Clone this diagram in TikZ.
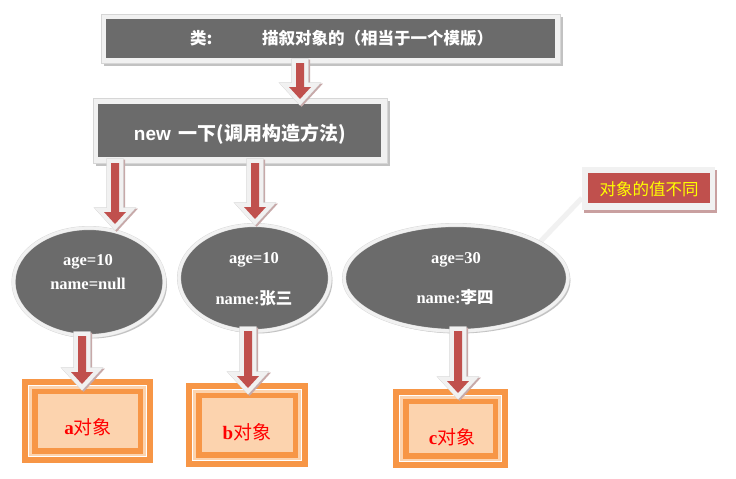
\documentclass[tikz,border=0pt]{standalone}
\usepackage{fontspec}
\setmainfont{Liberation Serif}
\newfontfamily\cjk{Noto Sans CJK SC}
\newfontfamily\arialf{Liberation Sans}
\usetikzlibrary{shapes.geometric,shadows,calc}
\definecolor{dgrey}{HTML}{6B6B6B}
\definecolor{lightc}{HTML}{F1F1F1}
\definecolor{edgec}{HTML}{D6D6D6}
\definecolor{shadowc}{HTML}{C2C2C2}
\definecolor{redc}{HTML}{C0504D}
\definecolor{arrsc}{HTML}{C7A9A9}
\definecolor{orangec}{HTML}{F79646}
\definecolor{peachc}{HTML}{FCD3AE}
\definecolor{callsc}{HTML}{C9A0A0}
\definecolor{txtred}{HTML}{FF0000}
\definecolor{txtyel}{HTML}{FFFF00}
\pgfdeclarelayer{bg}
\pgfsetlayers{bg,main}
\tikzset{
  lightbox/.style={rectangle, fill=lightc, draw=edgec, line width=0.4pt,
    general shadow={fill=shadowc, shadow xshift=3pt, shadow yshift=-3pt}},
  ell/.style={ellipse, fill=dgrey, draw=edgec, double=lightc, double distance=3.2pt, line width=0.4pt,
    general shadow={fill=shadowc, shadow xshift=2.5pt, shadow yshift=-2.5pt}},
  callbox/.style={rectangle, fill=lightc,
    general shadow={fill=callsc, shadow xshift=2pt, shadow yshift=-2.5pt}},
  objbox/.style={rectangle, fill=orangec},
  toptext/.style={text=white, font=\cjk\bfseries\fontsize{16.5}{19}\selectfont},
  newtext/.style={text=white, font=\cjk\bfseries\fontsize{19}{22}\selectfont},
  etext/.style={text=white, font=\bfseries\fontsize{16.5}{19}\selectfont},
  calltext/.style={text=txtyel, font=\cjk\fontsize{16.5}{19}\selectfont},
  objtext/.style={text=txtred, font=\bfseries\fontsize{19}{22}\selectfont},
  conn/.style={draw=lightc, line width=5pt},
  arrsh/.style={fill=arrsc, draw=arrsc, line width=9pt, line join=miter},
  arrlt/.style={fill=lightc, draw=edgec, double=lightc, double distance=8.4pt, line width=0.35pt, line join=miter},
  arrrd/.style={fill=redc, draw=none},
}
% #1 = x (px), #2 = source node, #3 = target node, #4 = tip offset below target's north
\newcommand\barrow[4]{%
  \foreach \st/\sx/\sy in {arrsh/1.6/1.2, arrlt/0/0, arrrd/0/0}{%
    \draw[\st] let \p1=(#2.south), \p2=(#3.north) in
      ({#1pt-4pt+\sx pt},{\y1-\sy pt}) --
      ({#1pt-4pt+\sx pt},{\y2-(#4pt)+12pt-\sy pt}) --
      ({#1pt-11pt+\sx pt},{\y2-(#4pt)+12pt-\sy pt}) --
      ({#1pt+\sx pt},{\y2-(#4pt)-\sy pt}) --
      ({#1pt+11pt+\sx pt},{\y2-(#4pt)+12pt-\sy pt}) --
      ({#1pt+4pt+\sx pt},{\y2-(#4pt)+12pt-\sy pt}) --
      ({#1pt+4pt+\sx pt},{\y1-\sy pt}) -- cycle;
  }}
\newcommand\objinner[1]{%
  \draw[white, line width=0.9pt] ($(#1.north west)+(6.5,6.5)$) rectangle ($(#1.south east)+(-6.5,-6.5)$);
  \fill[peachc] ($(#1.north west)+(7,7)$) rectangle ($(#1.south east)+(-7,-7)$);
  \fill[orangec] ($(#1.north west)+(10,9.5)$) rectangle ($(#1.south east)+(-10,-9.5)$);
  \fill[peachc] ($(#1.north west)+(16,15)$) rectangle ($(#1.south east)+(-15,-15)$);
}
\begin{document}
\begin{tikzpicture}[x=1pt,y=-1pt, every node/.style={outer sep=0pt, inner sep=0pt}]
\useasboundingbox (0,0) rectangle (736,479);
\begin{pgfonlayer}{bg}
\fill[white] (0,0) rectangle (736,479);
\end{pgfonlayer}

% class box
\node[lightbox, minimum width=459pt, minimum height=49pt] (top) at (330.5,38.5) {};
\fill[dgrey] ($(top.north west)+(5,5)$) rectangle ($(top.south east)+(-5,-5)$);
\node[toptext, anchor=west] (t1) at (190,38.5) {类:};
\node[toptext, anchor=west] (t2) at (262,38.5) {描叙对象的（相当于一个模版）};

% new box
\node[lightbox, minimum width=294pt, minimum height=65pt] (new) at (240,130.5) {};
\fill[dgrey] ($(new.north west)+(5,6)$) rectangle ($(new.south east)+(-6,-6)$);
\node[newtext] (t3) at (240,134) {{\arialf new}\hspace{8pt}一下(调用构造方法)};

% ellipses
\node[ell, minimum width=151pt, minimum height=108pt] (e1) at (89,282) {};
\node[ell, minimum width=151pt, minimum height=106pt] (e2) at (254.5,278) {};
\node[ell, minimum width=224pt, minimum height=106pt] (e3) at (456,278) {};
\node[etext] (e1a) at (88,262) {age=10};
\node[etext] (e1b) at (88,284) {name=null};
\node[etext] (e2a) at (254,260) {age=10};
\node[etext] (e2b) at (254,298) {name:{\cjk 张三}};
\node[etext] (e3a) at (456,260) {age=30};
\node[etext] (e3b) at (455,297) {name:{\cjk 李四}};

% callout
\node[callbox, minimum width=133pt, minimum height=43pt] (call) at (648.5,188.5) {};
\fill[redc] ($(call.north west)+(6,6)$) rectangle ($(call.south east)+(-5,-7)$);
\node[calltext] (ct) at (649,189.5) {对象的值不同};
\coordinate (cend) at ($(call.south west)+(0,-12)$);
\begin{pgfonlayer}{bg}
\draw[conn] (e3.23) -- (cend);
\end{pgfonlayer}

% object boxes
\node[objbox, minimum width=131pt, minimum height=84pt] (a) at (87.5,421) {};
\objinner{a}
\node[objtext] (at) at (88,427) {a{\cjk\mdseries 对象}};
\node[objbox, minimum width=122pt, minimum height=84pt] (b) at (247,425) {};
\objinner{b}
\node[objtext] (bt) at (247,432) {b{\cjk\mdseries 对象}};
\node[objbox, minimum width=115pt, minimum height=79pt] (c) at (450.5,428.5) {};
\objinner{c}
\node[objtext] (ctx) at (452,437) {c{\cjk\mdseries 对象}};

% block arrows
\barrow{300}{top}{new}{1}
\barrow{115}{new}{e1}{-4}
\barrow{255}{new}{e2}{-6}
\barrow{82}{e1}{a}{5}
\barrow{248}{e2}{b}{5}
\barrow{458}{e3}{c}{4}
\end{tikzpicture}
\end{document}
